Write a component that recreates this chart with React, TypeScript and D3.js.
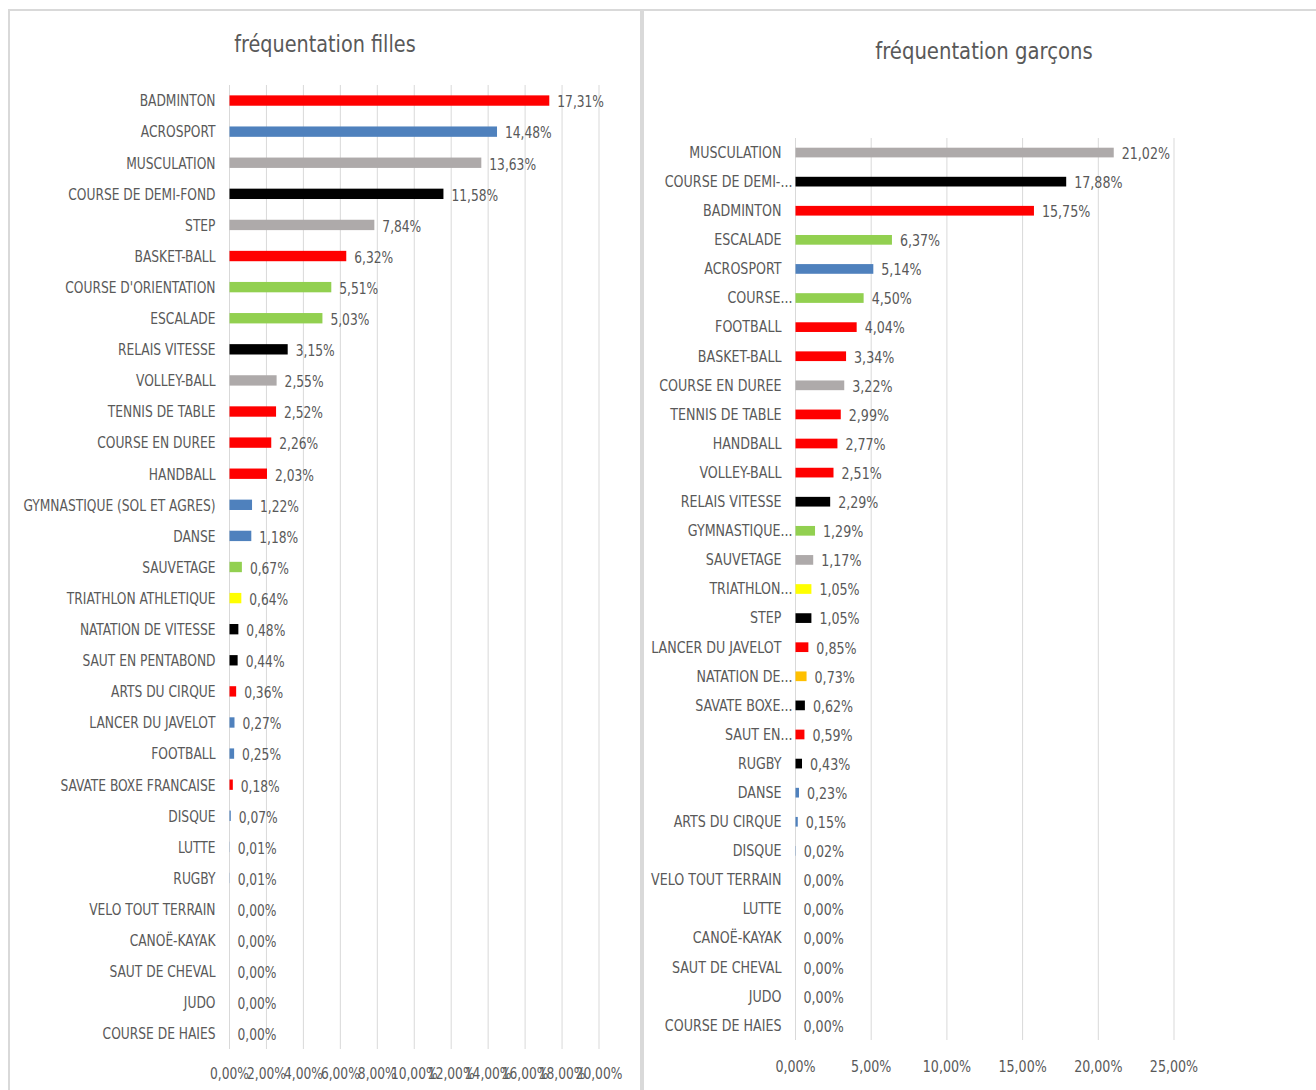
import React from 'react';
import * as d3 from 'd3';

// fréquentation filles (%)
const girlsCategories = [
  'BADMINTON', 'ACROSPORT', 'MUSCULATION', 'COURSE DE DEMI-FOND', 'STEP', 'BASKET-BALL',
  "COURSE D'ORIENTATION", 'ESCALADE', 'RELAIS VITESSE', 'VOLLEY-BALL', 'TENNIS DE TABLE',
  'COURSE EN DUREE', 'HANDBALL', 'GYMNASTIQUE (SOL ET AGRES)', 'DANSE', 'SAUVETAGE',
  'TRIATHLON ATHLETIQUE', 'NATATION DE VITESSE', 'SAUT EN PENTABOND', 'ARTS DU CIRQUE',
  'LANCER DU JAVELOT', 'FOOTBALL', 'SAVATE BOXE FRANCAISE', 'DISQUE', 'LUTTE', 'RUGBY',
  'VELO TOUT TERRAIN', 'CANOË-KAYAK', 'SAUT DE CHEVAL', 'JUDO', 'COURSE DE HAIES',
];
const girlsValues = [
  17.31, 14.48, 13.63, 11.58, 7.84, 6.32, 5.51, 5.03, 3.15, 2.55, 2.52, 2.26, 2.03, 1.22, 1.18,
  0.67, 0.64, 0.48, 0.44, 0.36, 0.27, 0.25, 0.18, 0.07, 0.01, 0.01, 0, 0, 0, 0, 0,
];
const girlsColors = [
  'red', 'blue', 'gray', 'black', 'gray', 'red', 'green', 'green', 'black', 'gray', 'red',
  'red', 'red', 'blue', 'blue', 'green', 'yellow', 'black', 'black', 'red', 'blue', 'blue',
  'red', 'blue', 'blue', 'blue', 'blue', 'blue', 'blue', 'blue', 'blue',
];
const girlsTicks = [0, 2, 4, 6, 8, 10, 12, 14, 16, 18, 20];

// fréquentation garçons (%)
const boysCategories = [
  'MUSCULATION', 'COURSE DE DEMI-...', 'BADMINTON', 'ESCALADE', 'ACROSPORT', 'COURSE...',
  'FOOTBALL', 'BASKET-BALL', 'COURSE EN DUREE', 'TENNIS DE TABLE', 'HANDBALL', 'VOLLEY-BALL',
  'RELAIS VITESSE', 'GYMNASTIQUE...', 'SAUVETAGE', 'TRIATHLON...', 'STEP', 'LANCER DU JAVELOT',
  'NATATION DE...', 'SAVATE BOXE...', 'SAUT EN...', 'RUGBY', 'DANSE', 'ARTS DU CIRQUE',
  'DISQUE', 'VELO TOUT TERRAIN', 'LUTTE', 'CANOË-KAYAK', 'SAUT DE CHEVAL', 'JUDO',
  'COURSE DE HAIES',
];
const boysValues = [
  21.02, 17.88, 15.75, 6.37, 5.14, 4.5, 4.04, 3.34, 3.22, 2.99, 2.77, 2.51, 2.29, 1.29, 1.17,
  1.05, 1.05, 0.85, 0.73, 0.62, 0.59, 0.43, 0.23, 0.15, 0.02, 0, 0, 0, 0, 0, 0,
];
const boysColors = [
  'gray', 'black', 'red', 'green', 'blue', 'green', 'red', 'red', 'gray', 'red', 'red', 'red',
  'black', 'green', 'gray', 'yellow', 'black', 'red', 'orange', 'black', 'red', 'black', 'blue',
  'blue', 'blue', 'blue', 'blue', 'blue', 'blue', 'blue', 'blue',
];
const boysTicks = [0, 5, 10, 15, 20, 25];

const palette: Record<string, string> = {
  red: '#FF0000',
  blue: '#4F81BD',
  gray: '#AEAAAA',
  black: '#000000',
  green: '#92D050',
  yellow: '#FFFF00',
  orange: '#FFC000',
};

const FONT = '"Liberation Sans Narrow", "DejaVu Sans Condensed", "Roboto", sans-serif';
const TEXT = '#595959';
const GRID = '#D9D9D9';
const SQUEEZE = 0.88; // narrow the glyphs like Calibri Light

const pct = (v: number) => d3.format('.2f')(v).replace('.', ',') + '%';

// text drawn at (x, y), horizontally squeezed
const Label = ({ x, y, size, anchor = 'start', children }: any) => (
  <text
    transform={`translate(${x},${y}) scale(${SQUEEZE},1)`}
    fontSize={size}
    textAnchor={anchor}
    dominantBaseline="central"
  >
    {children}
  </text>
);

interface PanelProps {
  x0: number;
  x1: number;
  top: number;
  bottom: number;
  max: number;
  ticks: number[];
  categories: string[];
  values: number[];
  colors: string[];
  title: string;
  titleX: number;
  titleY: number;
  titleSize: number;
  labelSize: number;
  tickY: number;
}

const Panel = (p: PanelProps) => {
  const x = d3.scaleLinear().domain([0, p.max]).range([p.x0, p.x1]);
  const y = d3.scaleBand<string>()
    .domain(p.categories)
    .range([p.top, p.bottom])
    .paddingInner(2 / 3)
    .paddingOuter(1 / 3);
  const step = y.step();

  return (
    <g fontFamily={FONT} fill={TEXT}>
      <text
        transform={`translate(${p.titleX},${p.titleY}) scale(0.93,1)`}
        fontSize={p.titleSize}
        textAnchor="middle"
        dominantBaseline="central"
      >
        {p.title}
      </text>
      {p.ticks.map(t => (
        <line key={'g' + t} x1={x(t)} x2={x(t)} y1={p.top} y2={p.bottom} stroke={GRID} strokeWidth={1} />
      ))}
      {p.categories.map((c, i) => {
        const cy = (y(c) as number) + y.bandwidth() / 2;
        const truncated = c.endsWith('...');
        return (
          <g key={c}>
            <Label x={truncated ? p.x0 - 3 : p.x0 - 14} y={cy} size={p.labelSize} anchor="end">
              {c}
            </Label>
            <rect
              x={x(0)}
              y={cy - step / 6}
              width={Math.max(0, x(p.values[i]) - x(0))}
              height={step / 3}
              fill={palette[p.colors[i]]}
            />
            <Label x={x(p.values[i]) + 8} y={cy + 1} size={p.labelSize}>
              {pct(p.values[i])}
            </Label>
          </g>
        );
      })}
      {p.ticks.map(t => (
        <Label key={'t' + t} x={x(t)} y={p.tickY} size={p.labelSize} anchor="middle">
          {pct(t)}
        </Label>
      ))}
    </g>
  );
};

export default function App() {
  return (
    <svg
      width={1316}
      height={1090}
      style={{ position: 'absolute', left: 0, top: 0, background: '#fff' }}
    >
      <rect x={0} y={0} width={1316} height={1090} fill="#fff" />
      <rect x={9} y={10} width={632} height={1100} fill="#fff" stroke={GRID} strokeWidth={2} />
      <rect x={643} y={10} width={700} height={1100} fill="#fff" stroke={GRID} strokeWidth={2} />
      <Panel
        x0={229.5}
        x1={599}
        top={85}
        bottom={1049}
        max={20}
        ticks={girlsTicks}
        categories={girlsCategories}
        values={girlsValues}
        colors={girlsColors}
        title="fréquentation filles"
        titleX={325}
        titleY={44}
        titleSize={23}
        labelSize={15.5}
        tickY={1073}
      />
      <Panel
        x0={795.5}
        x1={1174}
        top={138}
        bottom={1040}
        max={25}
        ticks={boysTicks}
        categories={boysCategories}
        values={boysValues}
        colors={boysColors}
        title="fréquentation garçons"
        titleX={984}
        titleY={51}
        titleSize={23.5}
        labelSize={16}
        tickY={1067}
      />
    </svg>
  );
}
